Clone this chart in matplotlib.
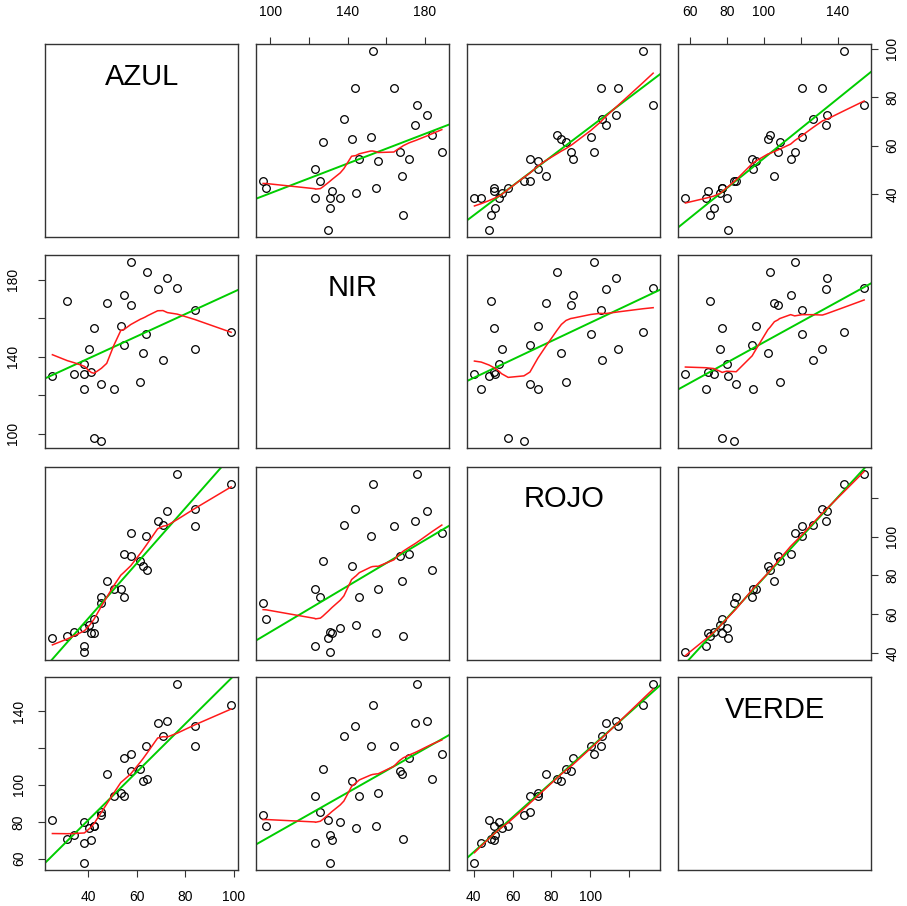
import numpy as np
import matplotlib.pyplot as plt

plt.rcParams['font.family'] = ['Liberation Sans', 'DejaVu Sans']

# datos (30 observaciones)
azul = [99.0, 83.9, 83.9, 76.8, 72.7, 70.9, 68.7, 64.5, 63.7, 62.7,
        61.6, 57.6, 57.6, 54.7, 54.7, 53.5, 50.6, 47.7, 45.5, 45.5,
        42.5, 42.5, 41.4, 40.5, 38.5, 38.5, 38.5, 34.3, 31.4, 25.3]
nir = [153.0, 164.0, 144.0, 175.8, 181.0, 138.1, 175.0, 184.0, 152.0, 142.1,
       127.1, 188.9, 167.0, 172.0, 146.1, 155.8, 123.3, 168.0, 96.2, 125.9,
       155.0, 97.9, 132.0, 144.2, 136.2, 130.8, 123.1, 131.0, 168.9, 130.1]
rojo = [127.2, 105.4, 114.3, 132.4, 113.3, 106.2, 108.1, 83.0, 100.2, 85.1,
        87.5, 102.1, 89.9, 91.1, 68.9, 73.0, 73.0, 77.0, 65.8, 68.9,
        50.3, 57.7, 50.3, 54.3, 53.1, 40.3, 43.8, 50.7, 48.6, 47.7]
verde = [143.4, 120.8, 131.8, 154.4, 134.5, 126.7, 133.6, 103.4, 120.8, 102.3,
         108.6, 116.8, 107.7, 114.6, 93.8, 95.6, 94.2, 105.8, 83.9, 85.1,
         77.5, 77.5, 69.9, 76.6, 79.9, 57.6, 68.7, 73.0, 70.8, 80.8]

nombres = ['AZUL', 'NIR', 'ROJO', 'VERDE']
datos = [np.array(azul), np.array(nir), np.array(rojo), np.array(verde)]

marcas = [[40, 60, 80, 100], [100, 120, 140, 160, 180],
          [40, 60, 80, 100, 120], [60, 80, 100, 120, 140]]
etiquetas = [['40', '60', '80', '100'], ['100', '', '140', '', '180'],
             ['40', '60', '80', '100', ''], ['60', '80', '100', '', '140']]


def lowess(x, y, f=0.5, iters=3):
    o = np.argsort(x, kind='stable')
    x = np.asarray(x, float)[o]
    y = np.asarray(y, float)[o]
    n = len(x)
    ns = max(2, min(n, int(f * n + 1e-7)))
    rw = np.ones(n)
    rango = x[-1] - x[0]
    ys = np.zeros(n)
    for it in range(iters + 1):
        for i in range(n):
            d = np.abs(x - x[i])
            hh = np.sort(d)[ns - 1]
            w = np.zeros(n)
            cerca = d <= 0.999 * hh
            w[cerca] = np.where(d[cerca] <= 0.001 * hh, 1.0,
                                (1 - (d[cerca] / hh) ** 3) ** 3)
            w *= rw
            if w.sum() <= 0:
                ys[i] = y[i]
                continue
            w /= w.sum()
            if hh > 0:
                a = np.sum(w * x)
                b = x[i] - a
                c = np.sum(w * (x - a) ** 2)
                if np.sqrt(c) > 0.001 * rango:
                    b /= c
                    w = w * (b * (x - a) + 1)
            ys[i] = np.sum(w * y)
        if it == iters:
            break
        res = y - ys
        cmad = 6 * np.median(np.abs(res))
        if cmad < 1e-7 * np.mean(np.abs(y)):
            break
        r = np.abs(res) / cmad
        rw = np.where(r <= 0.001, 1.0, np.where(r <= 0.999, (1 - r ** 2) ** 2, 0.0))
    return x, ys


def limites(v):
    r = v.max() - v.min()
    return v.min() - 0.04 * r, v.max() + 0.04 * r


fig = plt.figure(figsize=(9.07, 9.06), dpi=100)
lefts = [0.0499, 0.2822, 0.5152, 0.7478]
bottoms = [0.7384, 0.5052, 0.2720, 0.0394]
ancho, alto = 0.2128, 0.213
borde = '#333333'

for i in range(4):
    for j in range(4):
        ax = fig.add_axes([lefts[j], bottoms[i], ancho, alto])
        ax.set_xlim(limites(datos[j]))
        ax.set_ylim(limites(datos[i]))
        for s in ax.spines.values():
            s.set_color(borde)
            s.set_linewidth(1.0)
        ax.set_xticks([])
        ax.set_yticks([])
        if i == j:
            ax.text(0.5, 0.83, nombres[i], transform=ax.transAxes,
                    ha='center', va='center', fontsize=21)
        else:
            x, y = datos[j], datos[i]
            ax.plot(x, y, 'o', ms=5.5, mfc='none', mec='black', mew=0.9)
            m, b = np.polyfit(x, y, 1)
            xx = np.array(ax.get_xlim())
            ax.plot(xx, m * xx + b, color='#00cd00', lw=1.4)
            xs, ys = lowess(x, y)
            ax.plot(xs, ys, color='#ff1a1a', lw=1.1)
            ax.set_xlim(limites(datos[j]))

        kw = dict(direction='out', length=5, width=0.8, color=borde,
                  labelsize=10, pad=13)
        if i == 0 and j % 2 == 1:
            ax.xaxis.tick_top()
            ax.set_xticks(marcas[j])
            ax.set_xticklabels(etiquetas[j])
            ax.tick_params(axis='x', **kw)
        if i == 3 and j % 2 == 0:
            ax.set_xticks(marcas[j])
            ax.set_xticklabels(etiquetas[j])
            kw['pad'] = 9
            ax.tick_params(axis='x', **kw)
        if j == 0 and i % 2 == 1:
            ax.set_yticks(marcas[i])
            ax.set_yticklabels(etiquetas[i], rotation=90, va='center')
            ax.tick_params(axis='y', **kw)
        if j == 3 and i % 2 == 0:
            ax.yaxis.tick_right()
            ax.set_yticks(marcas[i])
            ax.set_yticklabels(etiquetas[i], rotation=90, va='center')
            kw['pad'] = 5
            ax.tick_params(axis='y', **kw)

fig.savefig('out.png', dpi=100)
